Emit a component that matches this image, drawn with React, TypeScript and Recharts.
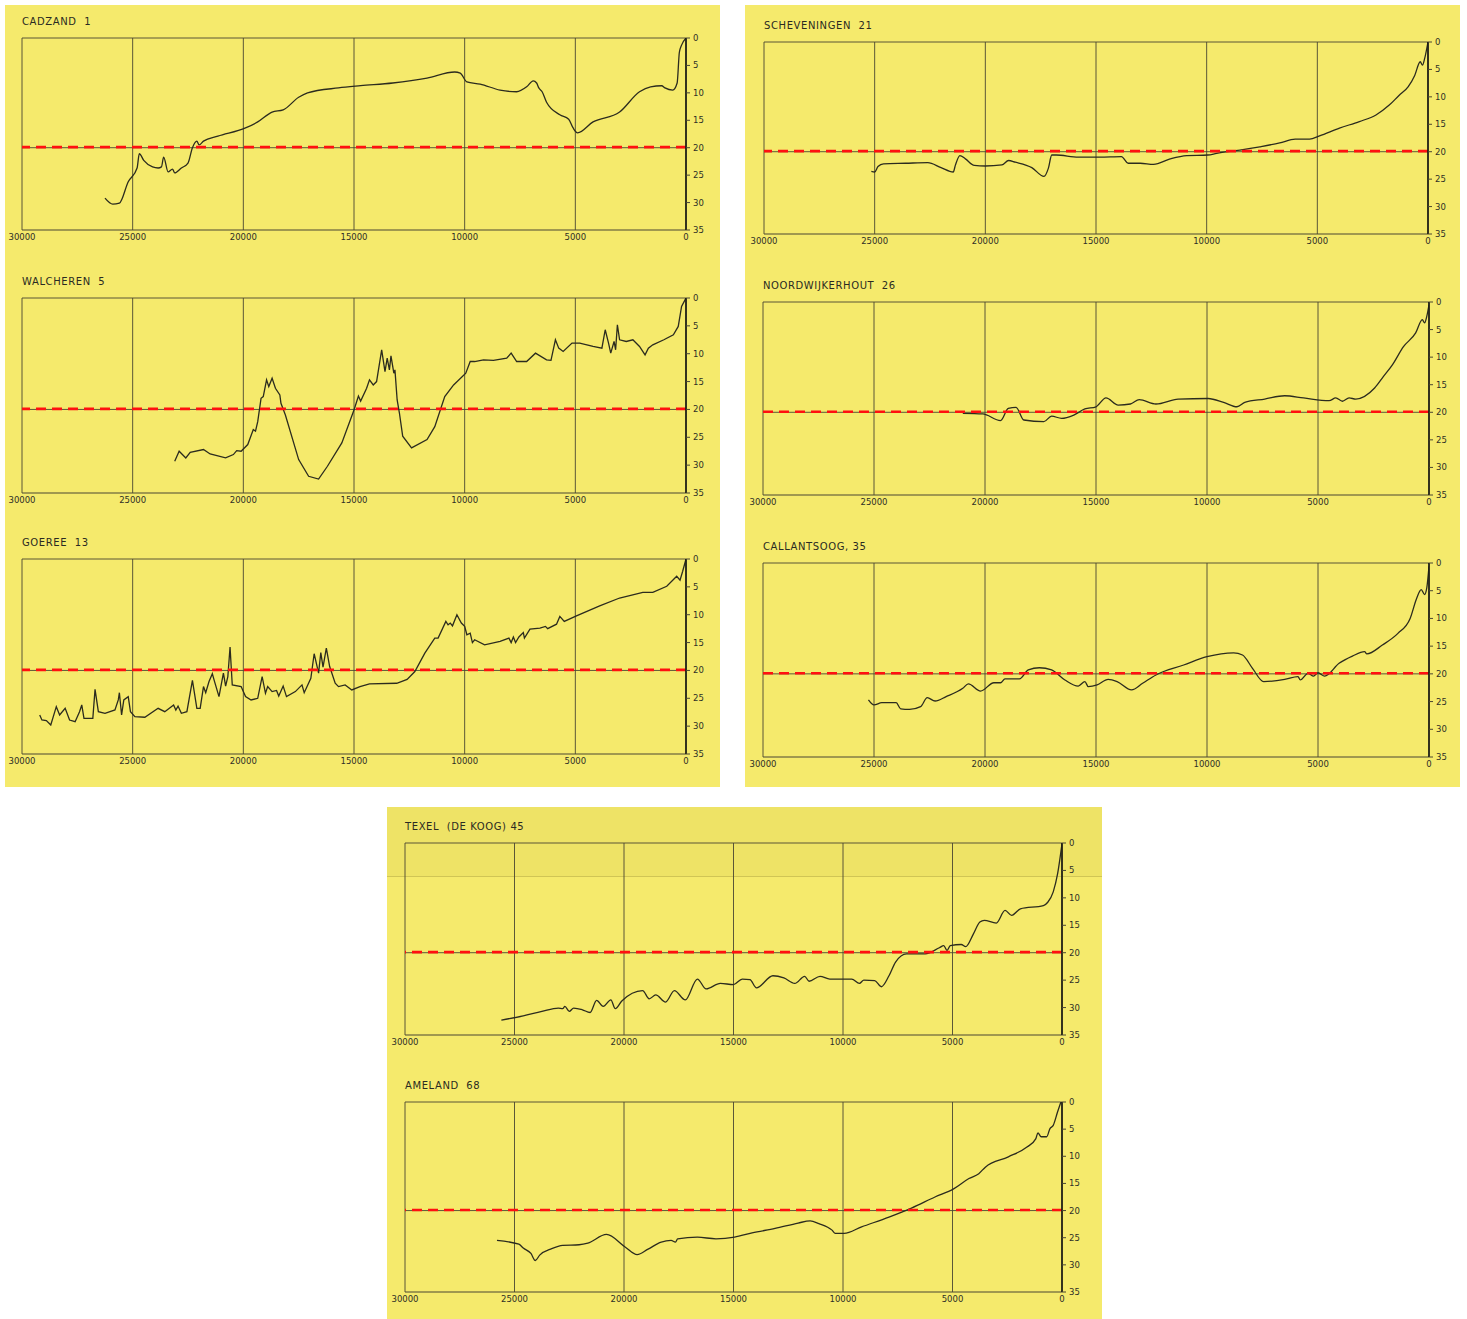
import React from "react";
import { LineChart, Line, XAxis, YAxis, ReferenceLine } from "recharts";

// ---- axis ticks ----
const X_TICKS = [30000, 25000, 20000, 15000, 10000, 5000, 0];
const X_GRID = [30000, 25000, 20000, 15000, 10000, 5000];
const Y_TICKS = [0, 5, 10, 15, 20, 25, 30, 35];

// ---- series: [age (years BP), depth (m)] ----
const CADZAND: [number, number][] = [
  [26250, 29.2], [25900, 30.3], [25600, 30.1], [25200, 26.2], [24800, 23.7], [24700, 21.1], [24500, 22.3],
  [24100, 23.5], [23850, 23.7], [23700, 23.5], [23600, 21.7], [23400, 24.4], [23200, 23.9], [23100, 24.6],
  [22800, 23.7], [22500, 22.8], [22300, 20.0], [22100, 18.8], [22000, 19.5], [21800, 18.8], [21150, 17.9],
  [19900, 16.4], [19350, 15.3], [18700, 13.5], [18200, 13.1], [17500, 10.8], [17100, 10.0], [15700, 9.1],
  [14700, 8.7], [13250, 8.2], [11700, 7.3], [10450, 6.2], [10200, 6.4], [9900, 8.0], [9300, 8.4],
  [8400, 9.5], [7650, 9.8], [7200, 8.9], [6900, 7.8], [6750, 8.2], [6650, 9.1], [6500, 9.8], [6300, 11.7],
  [5700, 14.0], [5300, 14.8], [5100, 16.4], [4900, 17.3], [4200, 15.3], [3000, 13.5], [2100, 9.8],
  [1600, 8.9], [1100, 8.7], [950, 9.1], [600, 9.5], [400, 8.2], [300, 2.6], [200, 1.3], [0, 0],
];

const WALCHEREN: [number, number][] = [
  [23100, 29.3], [22900, 27.5], [22600, 28.7], [22400, 27.7], [21800, 27.2], [21500, 28.0], [20800, 28.7],
  [20450, 28.1], [20300, 27.4], [20100, 27.5], [19800, 26.3], [19550, 23.6], [19450, 23.9], [19350, 22.2],
  [19200, 18.0], [19100, 17.7], [18950, 14.7], [18850, 15.9], [18700, 14.4], [18550, 16.2], [18350, 17.4],
  [18300, 18.9], [18100, 21.0], [17500, 29.0], [17050, 32.0], [16600, 32.5], [16200, 30.2], [15550, 26.0],
  [15000, 20.1], [14800, 17.6], [14700, 18.5], [14430, 16.2], [14300, 14.7], [14130, 15.6], [13980, 15.0],
  [13750, 9.3], [13600, 13.2], [13500, 10.8], [13400, 12.9], [13330, 10.4], [13200, 13.5], [13150, 12.9],
  [13050, 18.3], [12950, 20.6], [12800, 24.8], [12400, 26.9], [11700, 25.4], [11350, 23.1], [10900, 17.7],
  [10500, 15.6], [9950, 13.5], [9750, 11.4], [9550, 11.4], [9150, 11.1], [8700, 11.2], [8100, 10.8],
  [7900, 9.9], [7650, 11.4], [7200, 11.4], [6800, 9.9], [6300, 11.1], [6100, 11.2], [5900, 7.5],
  [5750, 9.0], [5550, 9.6], [5150, 8.1], [4800, 8.1], [4200, 8.7], [3800, 9.0], [3650, 5.7], [3500, 8.1],
  [3400, 9.9], [3250, 7.8], [3180, 9.3], [3100, 4.8], [3000, 7.5], [2700, 7.8], [2400, 7.5], [2100, 8.7],
  [1850, 10.2], [1700, 9.0], [1500, 8.4], [1000, 7.5], [570, 6.6], [350, 5.1], [200, 1.5], [0, 0],
];

const GOEREE: [number, number][] = [
  [29200, 28.0], [29100, 28.9], [28900, 29.0], [28700, 29.8], [28450, 26.5], [28300, 28.0], [28050, 26.8],
  [27850, 28.9], [27600, 29.2], [27400, 27.4], [27300, 26.2], [27200, 28.6], [26800, 28.6], [26700, 23.4],
  [26550, 27.4], [26250, 27.7], [25800, 27.1], [25650, 25.3], [25600, 24.0], [25500, 28.0], [25400, 25.3],
  [25200, 24.7], [25100, 27.4], [24900, 28.3], [24450, 28.4], [23850, 26.8], [23550, 27.4], [23150, 26.2],
  [23050, 27.1], [22950, 26.4], [22800, 27.7], [22550, 27.4], [22300, 21.8], [22100, 26.8], [21950, 26.8],
  [21800, 22.9], [21700, 24.0], [21550, 22.0], [21400, 20.6], [21300, 22.0], [21100, 24.7], [20900, 20.5],
  [20800, 22.8], [20700, 21.1], [20600, 15.8], [20500, 22.6], [20100, 22.9], [19900, 24.7], [19650, 25.3],
  [19350, 25.0], [19150, 21.1], [19000, 24.1], [18900, 22.9], [18700, 23.8], [18500, 23.6], [18400, 24.6],
  [18200, 22.8], [18050, 24.7], [17650, 23.8], [17350, 22.6], [17250, 24.0], [16950, 21.4], [16800, 17.0],
  [16600, 20.5], [16500, 16.8], [16400, 19.4], [16250, 16.0], [16100, 19.3], [15850, 22.3], [15700, 22.9],
  [15400, 22.6], [15100, 23.5], [14730, 22.9], [14300, 22.4], [13070, 22.3], [12600, 21.6], [12250, 20.2],
  [11800, 16.9], [11350, 14.2], [11200, 14.2], [10850, 11.2], [10750, 11.8], [10650, 11.5], [10550, 12.0],
  [10350, 10.0], [10150, 11.5], [10000, 12.1], [9900, 13.6], [9750, 13.3], [9650, 15.0], [9550, 14.5],
  [9100, 15.4], [8400, 14.8], [8000, 14.2], [7900, 15.0], [7800, 14.0], [7700, 15.0], [7550, 14.0],
  [7350, 13.2], [7300, 14.2], [7050, 12.6], [6600, 12.4], [6350, 12.1], [6250, 12.5], [5850, 11.7],
  [5700, 10.3], [5500, 11.2], [4950, 10.2], [3900, 8.4], [3000, 7.0], [1950, 6.0], [1500, 6.0],
  [870, 4.9], [420, 3.1], [270, 3.8], [150, 2.2], [0, 0],
];

const SCHEVENINGEN: [number, number][] = [
  [25150, 23.6], [25000, 23.7], [24850, 22.7], [24600, 22.2], [23600, 22.1], [22600, 22.0], [22000, 22.9],
  [21450, 23.7], [21350, 22.4], [21150, 20.7], [20900, 21.3], [20500, 22.5], [20000, 22.6], [19250, 22.4],
  [18950, 21.6], [18650, 21.9], [17900, 22.9], [17350, 24.5], [17150, 23.0], [17000, 20.6], [16800, 20.6],
  [15800, 21.0], [14830, 21.0], [13850, 20.9], [13550, 22.1], [13000, 22.1], [12400, 22.3], [11650, 21.3],
  [10900, 20.7], [9950, 20.6], [9550, 20.3], [8500, 19.7], [7600, 19.1], [6700, 18.4], [6000, 17.7],
  [5350, 17.7], [4900, 17.1], [4000, 15.7], [3100, 14.5], [2350, 13.3], [1750, 11.5], [1300, 9.7],
  [900, 8.2], [600, 6.1], [350, 3.6], [250, 4.2], [150, 3.0], [0, 0],
];

const NOORDWIJKERHOUT: [number, number][] = [
  [21000, 20.2], [20100, 20.3], [19300, 21.5], [18950, 19.3], [18600, 19.1], [18250, 21.4], [17350, 21.7],
  [17000, 20.7], [16550, 21.1], [16000, 20.5], [15500, 19.4], [15000, 19.0], [14550, 17.4], [14000, 18.7],
  [13450, 18.5], [13050, 17.7], [12300, 18.5], [11300, 17.6], [9950, 17.5], [9250, 18.2], [8650, 19.0],
  [8300, 18.2], [7400, 17.6], [6500, 17.0], [5650, 17.4], [4500, 17.9], [4200, 17.4], [3900, 18.0],
  [3600, 17.4], [3300, 17.6], [2450, 15.6], [2050, 13.5], [1650, 11.4], [1150, 8.1], [600, 5.6],
  [300, 3.2], [200, 3.8], [100, 2.6], [0, 0.5],
];

const CALLANTSOOG: [number, number][] = [
  [25250, 24.7], [25000, 25.6], [24650, 25.2], [24000, 25.2], [23800, 26.3], [23400, 26.4], [22900, 25.9],
  [22600, 24.3], [22250, 24.9], [21750, 24.1], [21000, 22.6], [20750, 21.8], [20200, 23.1], [19600, 21.6],
  [19300, 21.6], [19100, 20.9], [18450, 20.9], [18050, 19.3], [17550, 18.9], [17000, 19.3], [16400, 21.1],
  [15800, 22.2], [15500, 21.4], [15350, 22.3], [14950, 22.0], [14450, 21.0], [14050, 21.4], [13400, 22.9],
  [12900, 21.7], [12300, 20.2], [11050, 18.4], [10000, 16.9], [8800, 16.2], [8400, 16.6], [7950, 19.0],
  [7450, 21.4], [6500, 21.0], [5900, 20.5], [5800, 21.1], [5450, 19.9], [5200, 20.4], [5000, 19.8],
  [4700, 20.4], [4050, 18.1], [3450, 16.8], [2900, 16.0], [2800, 16.4], [2100, 14.8], [1400, 12.7],
  [850, 10.0], [550, 6.3], [350, 4.8], [200, 5.7], [100, 4.5], [0, 0.6],
];

const TEXEL: [number, number][] = [
  [25600, 32.3], [24600, 31.5], [23750, 30.7], [23000, 30.1], [22800, 30.2], [22700, 29.8], [22500, 30.7],
  [22300, 30.1], [21900, 30.4], [21550, 30.9], [21250, 28.7], [20950, 29.8], [20600, 28.6], [20400, 30.2],
  [20100, 28.8], [19150, 26.9], [18850, 28.4], [18550, 27.7], [18100, 29.0], [17700, 26.9], [17200, 28.6],
  [16650, 24.8], [16250, 26.6], [15600, 25.6], [15000, 25.8], [14600, 24.8], [14250, 24.9], [13950, 26.4],
  [13200, 24.2], [12700, 24.6], [12200, 25.6], [11750, 24.3], [11550, 25.2], [11050, 24.3], [10600, 24.8],
  [9600, 24.8], [9250, 25.6], [9050, 25.0], [8550, 25.1], [8250, 26.2], [7900, 24.2], [7600, 21.7],
  [7100, 20.2], [6250, 20.2], [5600, 19.1], [5400, 18.7], [5250, 19.6], [5100, 18.7], [4600, 18.5],
  [4400, 18.9], [4050, 16.6], [3750, 14.4], [3550, 14.1], [3000, 14.6], [2600, 12.3], [2300, 13.2],
  [1900, 12.0], [850, 11.4], [650, 10.8], [400, 8.9], [200, 5.6], [0, 0.1],
];

const AMELAND: [number, number][] = [
  [25800, 25.5], [24800, 26.2], [24600, 26.9], [24250, 27.9], [24050, 29.2], [23850, 28.2], [23300, 27.0],
  [22800, 26.4], [22050, 26.3], [21650, 26.0], [20800, 24.4], [19950, 26.7], [19400, 28.1], [18900, 27.1],
  [18300, 25.8], [17850, 25.5], [17650, 25.8], [17550, 25.2], [16650, 24.9], [15800, 25.2], [14950, 24.9],
  [14150, 24.1], [13100, 23.3], [12050, 22.3], [11500, 21.9], [11100, 22.4], [10500, 23.6], [10350, 24.2],
  [9950, 24.2], [9150, 23.0], [7900, 21.2], [6850, 19.5], [5800, 17.5], [4950, 16.0], [4250, 14.1],
  [3800, 13.2], [3500, 12.0], [2450, 10.1], [1600, 8.3], [1200, 6.8], [1100, 5.7], [950, 6.4], [700, 6.4],
  [550, 4.9], [400, 4.3], [200, 1.8], [50, 0],
];

// ---- styles ----
const YELLOW = "#f5ea6c";
const INK = "#2b2b1e";
const GRID = "#4a4632";
const RED = "#ff1010";
const FONT = "'DejaVu Sans', 'Liberation Sans', sans-serif";

const ML = 18;
const MT = 6;
const MR = 34;
const MB = 18;

type PanelProps = {
  title: string;
  series: [number, number][];
  x: number;
  y: number;
  w: number;
  h: number;
  curve: "linear" | "monotone";
};

function Panel({ title, series, x, y, w, h, curve }: PanelProps) {
  const data = series.map(([age, depth]) => ({ age, depth }));
  return (
    <>
      <div
        style={{
          position: "absolute",
          left: x,
          top: y - 22,
          fontFamily: FONT,
          fontSize: 10,
          letterSpacing: 0.6,
          color: "#2a2a22",
          whiteSpace: "pre",
        }}
      >
        {title}
      </div>
      <div style={{ position: "absolute", left: x - ML, top: y - MT }}>
        <LineChart
          width={w + ML + MR}
          height={h + MT + MB}
          data={data}
          margin={{ top: MT, left: ML, right: 0, bottom: 0 }}
        >
          <XAxis
            dataKey="age"
            type="number"
            domain={[0, 30000]}
            reversed
            ticks={X_TICKS}
            interval={0}
            height={MB}
            tickLine={false}
            tickSize={2}
            tickMargin={2}
            axisLine={{ stroke: GRID, strokeWidth: 1 }}
            tick={{ fontSize: 8.5, fill: "#2e2e26", fontFamily: FONT }}
            allowDataOverflow
          />
          <YAxis
            orientation="right"
            type="number"
            domain={[0, 35]}
            reversed
            ticks={Y_TICKS}
            interval={0}
            width={MR}
            tickSize={4}
            tickMargin={3}
            tickLine={{ stroke: GRID, strokeWidth: 1 }}
            axisLine={{ stroke: "#1e1e16", strokeWidth: 1.8 }}
            tick={{ fontSize: 8.5, fill: "#2e2e26", fontFamily: FONT }}
            allowDataOverflow
          />
          {X_GRID.map((v) => (
            <ReferenceLine key={v} x={v} stroke={GRID} strokeWidth={0.9} />
          ))}
          <ReferenceLine y={0} stroke={GRID} strokeWidth={0.9} />
          <ReferenceLine y={20} stroke={GRID} strokeWidth={0.9} />
          <Line
            dataKey="depth"
            type={curve}
            stroke={INK}
            strokeWidth={1.3}
            dot={false}
            isAnimationActive={false}
          />
          <ReferenceLine y={19.9} stroke={RED} strokeWidth={2.6} strokeDasharray="10 6" />
        </LineChart>
      </div>
    </>
  );
}

export default function App() {
  return (
    <div
      style={{
        position: "absolute",
        left: 0,
        top: 0,
        width: 1467,
        height: 1319,
        background: "#ffffff",
        overflow: "hidden",
      }}
    >
      <div style={{ position: "absolute", left: 5, top: 5, width: 715, height: 782, background: YELLOW }} />
      <div style={{ position: "absolute", left: 745, top: 5, width: 715, height: 782, background: YELLOW }} />
      <div style={{ position: "absolute", left: 387, top: 807, width: 715, height: 512, background: YELLOW }} />
      <div
        style={{
          position: "absolute",
          left: 387,
          top: 807,
          width: 715,
          height: 69,
          background: "rgba(110,100,0,0.05)",
          borderBottom: "1px solid rgba(90,80,20,0.2)",
        }}
      />

      <Panel title="CADZAND  1" series={CADZAND} x={22} y={38} w={664} h={192} curve="monotone" />
      <Panel title="WALCHEREN  5" series={WALCHEREN} x={22} y={298} w={664} h={195} curve="linear" />
      <Panel title="GOEREE  13" series={GOEREE} x={22} y={559} w={664} h={195} curve="linear" />

      <Panel title="SCHEVENINGEN  21" series={SCHEVENINGEN} x={764} y={42} w={664} h={192} curve="monotone" />
      <Panel title="NOORDWIJKERHOUT  26" series={NOORDWIJKERHOUT} x={763} y={302} w={666} h={193} curve="monotone" />
      <Panel title="CALLANTSOOG, 35" series={CALLANTSOOG} x={763} y={563} w={666} h={194} curve="monotone" />

      <Panel title="TEXEL  (DE KOOG) 45" series={TEXEL} x={405} y={843} w={657} h={192} curve="monotone" />
      <Panel title="AMELAND  68" series={AMELAND} x={405} y={1102} w={657} h={190} curve="monotone" />
    </div>
  );
}
